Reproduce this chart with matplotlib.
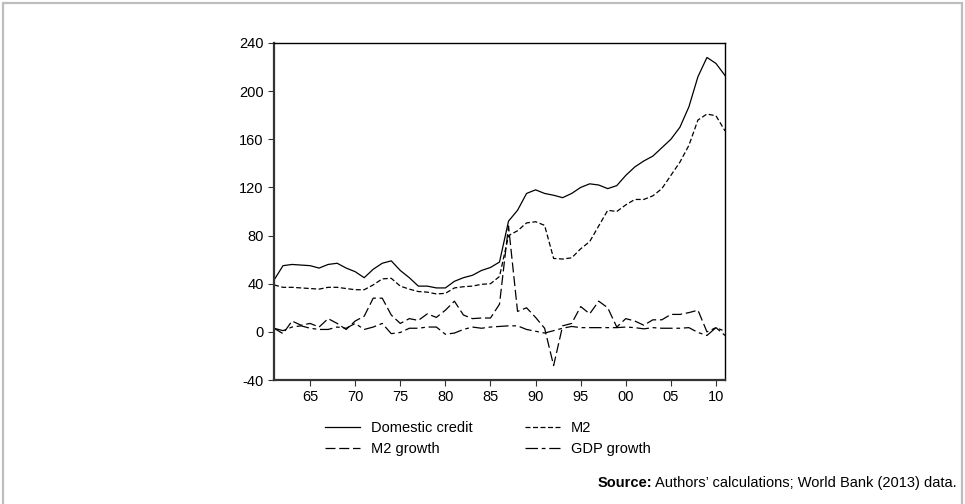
import matplotlib
matplotlib.use('Agg')
import matplotlib.pyplot as plt
from matplotlib.patches import Rectangle

plt.rcParams['font.family'] = ['Liberation Sans', 'DejaVu Sans']
plt.rcParams['axes.unicode_minus'] = False

years = list(range(1961, 2012))

domestic_credit = [43, 55, 56, 55.5, 55, 53, 56, 57, 53, 50,
                   45, 52, 57, 59, 51, 45, 38, 38, 36.5, 36.5,
                   42, 45, 47, 51, 53.5, 58, 92, 101, 115, 118,
                   115, 113.5, 111.5, 115, 120, 123, 122, 119, 121.5, 130,
                   137, 142, 146, 153, 160, 170, 187, 212, 228, 223,
                   213]

m2 = [39, 37, 37, 36.5, 36, 35.5, 37, 37, 36, 35,
      35, 39, 44, 44.5, 38, 35.5, 33.5, 33, 31.5, 32,
      36.5, 37.5, 38, 39.5, 40, 46, 80, 84, 90.5, 91.5,
      88.5, 61, 60.5, 61.5, 69, 75, 88, 101, 100, 105.5,
      110, 110, 113, 119, 130, 141, 155, 176, 181, 179.5,
      167]

m2_growth = [3, -1.5, 9, 5.5, 7, 4, 11, 7, 2, 9,
             13, 28, 28, 14, 7, 11, 9.5, 15, 12, 18,
             25.5, 14, 11, 11.5, 11.5, 23, 88, 17, 20, 12,
             3, -28, 5, 7, 21, 15, 25.5, 20, 4, 11,
             9, 5.5, 10, 10, 14.5, 14.5, 16, 18, 0, 3.5,
             -3]

gdp_growth = [3, 1, 4, 5, 3, 2, 2, 4, 3, 7,
              2, 4, 7, -1.5, -0.5, 3, 3, 4, 4, -2,
              -1, 2, 4, 3, 4, 4.5, 5, 5, 2, 0.5,
              -1, 1, 3, 4.5, 3.5, 3.5, 3.5, 3.5, 3.5, 4,
              3.5, 2.5, 3.5, 3, 3, 3, 3.5, -0.5, -3, 3.5,
              0.5]

tick_years = [1965, 1970, 1975, 1980, 1985, 1990, 1995, 2000, 2005, 2010]
tick_labels = ['65', '70', '75', '80', '85', '90', '95', '00', '05', '10']

fig = plt.figure(figsize=(9.65, 5.04), dpi=100)
ax = fig.add_axes([274 / 965, 1 - 380 / 504, (725 - 274) / 965, (380 - 43) / 504])

# grey frame round the whole picture
fig.patches.append(Rectangle((3 / 965, -0.01), 959 / 965, 1 - 3 / 504 + 0.01,
                             transform=fig.transFigure, fill=False,
                             edgecolor='#bdbdbd', linewidth=1.6))

l1, = ax.plot(years, domestic_credit, color='black', lw=0.9, label='Domestic credit')
l2, = ax.plot(years, m2, color='black', lw=0.9, linestyle=(0, (4, 2)), label='M2')
l3, = ax.plot(years, m2_growth, color='black', lw=0.9, linestyle=(0, (8, 3)), label='M2 growth')
l4, = ax.plot(years, gdp_growth, color='black', lw=0.9, linestyle=(0, (10, 3, 3, 3)), label='GDP growth')

ax.set_xlim(1961, 2011)
ax.set_ylim(-40, 240)
ax.set_yticks(range(-40, 241, 40))
ax.set_xticks(tick_years)
ax.set_xticklabels(tick_labels)
ax.tick_params(direction='out', length=4, width=0.8, labelsize=10.5, color='#333333')

for s in ['top', 'right']:
    ax.spines[s].set_linewidth(1.0)
    ax.spines[s].set_color('black')
for s in ['left', 'bottom']:
    ax.spines[s].set_linewidth(1.6)
    ax.spines[s].set_color('#333333')

fig.legend(handles=[l1, l3, l2, l4], ncol=2, frameon=False,
           loc='upper left', bbox_to_anchor=(312 / 965, 1 - 408 / 504),
           fontsize=10.5, handlelength=2.4, handletextpad=0.75,
           columnspacing=3.6, labelspacing=0.45)

t = fig.text(957 / 965, 1 - 483 / 504, 'Authors\u2019 calculations; World Bank (2013) data.',
             ha='right', va='center', fontsize=10.5)
fig.canvas.draw()
bb = t.get_window_extent()
fig.text((bb.x0 - 3) / fig.bbox.width, 1 - 483 / 504, 'Source:',
         ha='right', va='center', fontsize=10.5, fontweight='bold')

fig.savefig('out.png', dpi=100)
